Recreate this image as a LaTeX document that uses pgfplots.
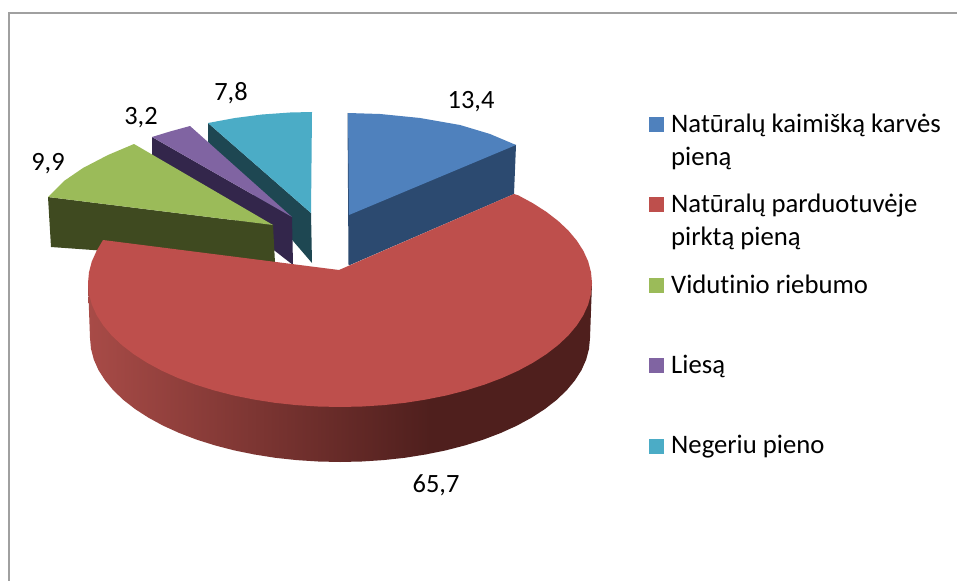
\documentclass[border=0pt]{standalone}
\usepackage{pgfplots}
\pgfplotsset{compat=1.18}
\usepackage{fontspec}
\setmainfont{Carlito}[Ligatures=NoCommon]
\definecolor{cblue}{HTML}{4F81BD}
\definecolor{dblue}{HTML}{2C4A70}
\definecolor{cred}{HTML}{BE4F4C}
\definecolor{cgreen}{HTML}{9BBB59}
\definecolor{dgreen}{HTML}{3F4A20}
\definecolor{cpurple}{HTML}{8064A2}
\definecolor{dpurple}{HTML}{33264B}
\definecolor{cteal}{HTML}{4BACC6}
\definecolor{dteal}{HTML}{1E4752}
\definecolor{frame}{HTML}{A0A0A0}
\definecolor{sa}{HTML}{A84B47}
\definecolor{sb}{HTML}{4F1F1D}
\pgfdeclarehorizontalshading{sidered}{100bp}{color(0bp)=(sa); color(25bp)=(sa); color(59bp)=(sb); color(100bp)=(sb)}
\newcommand{\lab}[3]{\node[anchor=base west,inner sep=0pt,font=\fontsize{#3}{#3}\selectfont] at (axis cs:#1) {#2};}
\newcommand{\val}[2]{\node[anchor=center,inner sep=0pt,font=\fontsize{26.5}{26.5}\selectfont] at (axis cs:#1) {#2};}
\begin{document}
\begin{tikzpicture}
\begin{axis}[scale only axis,width=957bp,height=581bp,xmin=0,xmax=957,ymin=0,ymax=581,y dir=reverse,axis lines=none,clip=true]
% page extent
\addplot[fill=white,draw=none] coordinates {(0,0) (957,0) (957,581) (0,581)};
% frame
\addplot[frame,line width=2bp] coordinates {(9,581) (9,13) (957,13)};
% teal slice
\addplot[fill=dteal,draw=none] coordinates {(208,123) (311,213) (312,263) (208,142)};
\addplot[fill=cteal,draw=none] coordinates {(208,123) (235,118) (262,114.5) (290,112.5) (312,112) (311,213)};
% purple slice
\addplot[fill=dpurple,draw=none] coordinates {(152,137) (292,217) (293,265) (152,155)};
\addplot[fill=cpurple,draw=none] coordinates {(152,137) (170,131.5) (190,126) (292,217)};
% green slice
\addplot[fill=dgreen,draw=none] coordinates {(48,197) (273,225) (275,263) (51,247)};
\addplot[fill=cgreen,draw=none] coordinates {(48,197) (64,181) (83,168) (108,155) (134,144) (273,225)};
% blue slice
\addplot[fill=dblue,draw=none] coordinates {(347.5,113) (516,145) (514,194) (350,265) (348.5,265)};
\addplot[fill=cblue,draw=none] coordinates {(348,113) (380,114) (420,118) (460,125) (490,134) (516,145) (349,215)};
% red side
\addplot[shade,shading=sidered,draw=none] coordinates {
(88,283) (90,338) (91,348.8) (93.8,359.5) (98.5,370.1) (105.1,380.4) (113.4,390.4) (123.5,400) (135.2,409.1) (148.5,417.7) (163.2,425.7) (179.3,433) (196.6,439.6) (215,445.4) (234.3,450.4) (254.5,454.5) (275.3,457.8) (296.6,460.1) (318.2,461.5) (340,462)
(361.8,461.5) (383.4,460.1) (404.7,457.8) (425.5,454.5) (445.7,450.4) (465,445.4) (483.4,439.6) (500.7,433) (516.8,425.7) (531.5,417.7) (544.8,409.1) (556.5,400) (566.6,390.4) (574.9,380.4) (581.5,370.1) (586.2,359.5) (589,348.8) (590,338) (592,283)};
% red top
\addplot[fill=cred,draw=none] coordinates {
(339,270) (514,194) (518.2,195.3) (533,203.3) (546.4,211.9) (558.2,221) (568.4,230.6) (576.8,240.6) (583.4,250.9) (588.2,261.5) (591,272.2) (592,283)
(591,293.8) (588.2,304.5) (583.4,315.1) (576.8,325.4) (568.4,335.4) (558.2,345) (546.4,354.1) (533,362.7) (518.2,370.7) (502,378) (484.5,384.6) (466,390.4) (446.5,395.4) (426.2,399.5) (405.2,402.8) (383.8,405.1) (362,406.5) (340,407)
(318,406.5) (296.2,405.1) (274.8,402.8) (253.8,399.5) (233.5,395.4) (214,390.4) (195.5,384.6) (178,378) (161.8,370.7) (147,362.7) (133.6,354.1) (121.8,345) (111.6,335.4) (103.2,325.4) (96.6,315.1) (91.8,304.5) (89,293.8) (88,283) (89,272.2) (91.8,261.5) (96.6,250.9) (103,240)};
% legend keys
\addplot[fill=cblue,draw=none] coordinates {(649,117) (664,117) (664,132) (649,132)};
\addplot[fill=cred,draw=none] coordinates {(649,197) (664,197) (664,212) (649,212)};
\addplot[fill=cgreen,draw=none] coordinates {(649,278) (664,278) (664,293) (649,293)};
\addplot[fill=cpurple,draw=none] coordinates {(649,358) (664,358) (664,373) (649,373)};
\addplot[fill=cteal,draw=none] coordinates {(649,439) (664,439) (664,454) (649,454)};
% legend text
\lab{671,132}{Natūralų kaimišką karvės}{26.8}
\lab{671,165}{pieną}{26.8}
\lab{671,212}{Natūralų parduotuvėje}{26.8}
\lab{671,245}{pirktą pieną}{26.8}
\lab{671,293}{Vidutinio riebumo}{26.8}
\lab{671,373}{Liesą}{26.8}
\lab{671,453}{Negeriu pieno}{26.8}
% values
\val{471,101.5}{13,4}
\val{231,93}{7,8}
\val{141,117.5}{3,2}
\val{48,164}{9,9}
\val{436,485}{65,7}
\end{axis}
\end{tikzpicture}
\end{document}
